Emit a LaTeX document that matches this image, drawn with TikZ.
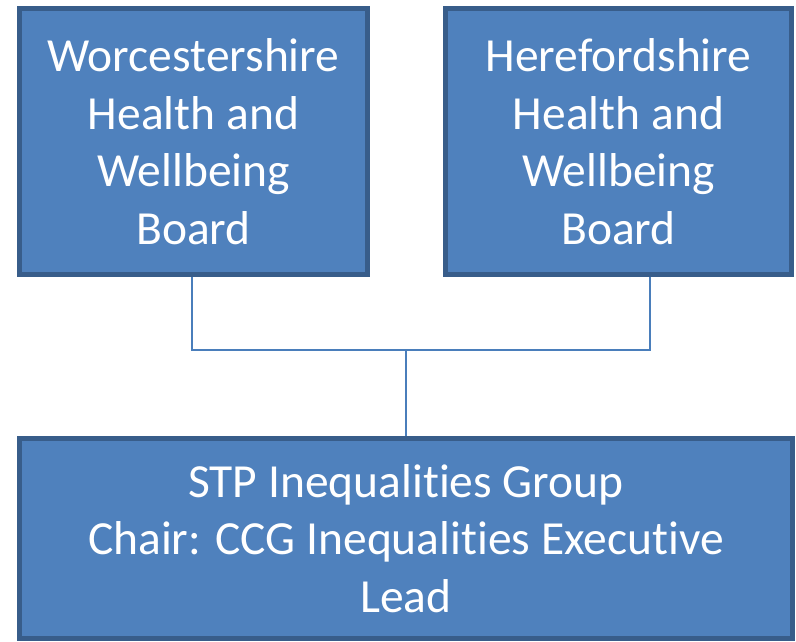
\documentclass[tikz,border=0pt]{standalone}
\usepackage{fontspec}
\setmainfont{Carlito}[Ligatures={NoCommon}]
\usepackage{tikz}
\usetikzlibrary{positioning}

\definecolor{boxfill}{HTML}{4F81BD}
\definecolor{boxline}{HTML}{385D8A}
\definecolor{linkline}{HTML}{4A7EBB}

\begin{document}
\begin{tikzpicture}[
            x = 1pt, y = -1pt, % pixel grid
            semithick
        ]

        \tikzstyle{board}=[
            draw = boxline,
            line width = 5pt,
            fill = boxfill,
            text = white,
            align = center,
            inner sep = 0pt,
            font = \fontsize{47.5}{57.5}\selectfont
        ]
        \tikzstyle{link}=[
            draw = linkline,
            line width = 2pt
        ]

        \useasboundingbox[fill = white] (0,0) rectangle (796,642);

        \node[board, minimum width = 348pt, minimum height = 266pt] (worcs) at (193.5,141.5)
            {Worcestershire\\Health and\\Wellbeing\\Board};
        \node[board, minimum width = 346pt, minimum height = 266pt] (heref) at (618.5,141.5)
            {Herefordshire\\Health and\\Wellbeing\\Board};
        \node[board, minimum width = 773pt, minimum height = 200pt] (stp) at (406,538.5)
            {STP Inequalities Group\\Chair: CCG Inequalities Executive\\Lead};

        \coordinate (jl) at (192,350);
        \coordinate (jm) at (406,350);
        \coordinate (jr) at (650,350);

        \path[link] (worcs.south -| jl) -- (jl) -- (jr) -- (heref.south -| jr);
        \path[link] (jm) -- (stp.north);

  \end{tikzpicture}
\end{document}
